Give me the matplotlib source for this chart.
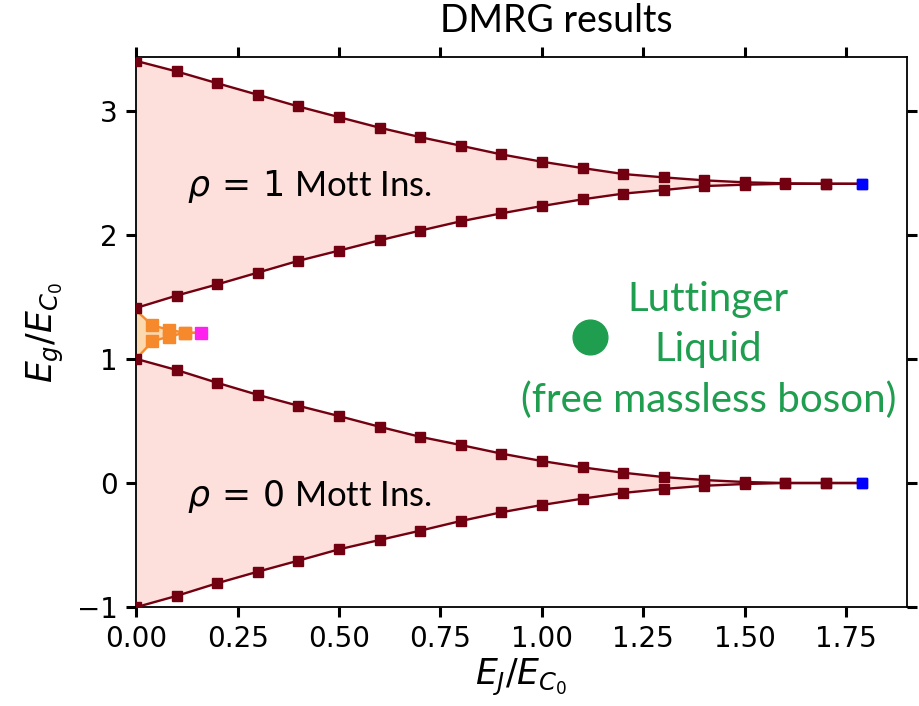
from __future__ import annotations

import matplotlib

matplotlib.use("Agg")

import matplotlib.pyplot as plt


# DMRG gap boundaries
ej = [0.0, 0.1, 0.2, 0.3, 0.4, 0.5, 0.6, 0.7, 0.8, 0.9,
      1.0, 1.1, 1.2, 1.3, 1.4, 1.5, 1.6, 1.7, 1.79]

mott1_upper = [3.40, 3.315, 3.22, 3.127, 3.033, 2.947, 2.862, 2.786, 2.717, 2.647,
               2.588, 2.537, 2.489, 2.462, 2.438, 2.422, 2.414, 2.411, 2.41]
mott1_lower = [1.41, 1.51, 1.60, 1.695, 1.79, 1.872, 1.955, 2.033, 2.108, 2.172,
               2.231, 2.285, 2.331, 2.36, 2.392, 2.403, 2.41, 2.41, 2.41]

mott0_upper = [1.00, 0.91, 0.807, 0.71, 0.622, 0.539, 0.453, 0.372, 0.306, 0.237,
               0.177, 0.126, 0.083, 0.048, 0.024, 0.008, 0.0, 0.0, 0.0]
mott0_lower = [-1.00, -0.909, -0.807, -0.714, -0.625, -0.534, -0.459, -0.384, -0.306, -0.236,
               -0.177, -0.126, -0.08, -0.048, -0.022, -0.008, 0.0, 0.0, 0.0]

# small half-filling lobe near E_J = 0
ej_half = [0.0, 0.04, 0.08, 0.12, 0.16]
half_upper = [1.39, 1.27, 1.235, 1.21, 1.21]
half_lower = [1.00, 1.14, 1.18, 1.21, 1.21]

ll_point = (1.118, 1.175)

DARK = "#730010"
PINK = "#fde0dc"
ORANGE = "#f6892c"
ORANGE_FILL = "#fcd8ae"
GREEN = "#1f9e4f"


def main() -> None:
    fig = plt.figure(figsize=(9.2, 7.06), dpi=100)
    ax = fig.add_axes([0.148, 0.140, 0.838, 0.779])

    for upper, lower in [(mott1_upper, mott1_lower), (mott0_upper, mott0_lower)]:
        ax.fill_between(ej, lower, upper, color=PINK, linewidth=0, zorder=1)
        for curve in (upper, lower):
            ax.plot(ej, curve, color=DARK, linewidth=1.7, zorder=3)
            ax.plot(ej[:-1], curve[:-1], linestyle="none", marker="s", markersize=7.5,
                    color=DARK, zorder=4)
            ax.plot(ej[-1:], curve[-1:], linestyle="none", marker="s", markersize=7.5,
                    color="#0000ff", zorder=4)

    ax.fill_between(ej_half, half_lower, half_upper, color=ORANGE_FILL, linewidth=0, zorder=2)
    for curve in (half_upper, half_lower):
        ax.plot(ej_half, curve, color=ORANGE, linewidth=1.7, zorder=3)
        ax.plot(ej_half[1:-1], curve[1:-1], linestyle="none", marker="s", markersize=8,
                color=ORANGE, zorder=4)
    ax.plot(ej_half[-1:], half_upper[-1:], linestyle="none", marker="s", markersize=8,
            color="#ff22ee", zorder=5)

    ax.plot([ll_point[0]], [ll_point[1]], marker="o", markersize=25, color=GREEN,
            linestyle="none", zorder=5)

    ax.text(0.125, 2.39, r"$\rho\,=\,1$ Mott Ins.", fontsize=25, va="center", ha="left",
            family="Lato")
    ax.text(0.125, -0.11, r"$\rho\,=\,0$ Mott Ins.", fontsize=25, va="center", ha="left",
            family="Lato")
    ax.text(1.41, 1.07, "Luttinger\nLiquid\n(free massless boson)", color=GREEN,
            fontsize=29, ha="center", va="center", linespacing=1.44, family="Lato")
    ax.set_title("DMRG results", fontsize=27, family="Lato", pad=18, x=0.545)

    ax.set_xlim(0, 1.9)
    ax.set_ylim(-1, 3.43)
    ax.set_xticks([0, 0.25, 0.5, 0.75, 1.0, 1.25, 1.5, 1.75])
    ax.set_xticklabels(["0.00", "0.25", "0.50", "0.75", "1.00", "1.25", "1.50", "1.75"])
    ax.set_yticks([-1, 0, 1, 2, 3])
    ax.tick_params(direction="out", length=7, width=2.2, labelsize=20,
                   top=True, right=True, pad=6)
    for spine in ax.spines.values():
        spine.set_linewidth(1.3)

    ax.set_xlabel(r"$E_J/E_{C_0}$", fontsize=25, labelpad=3)
    ax.set_ylabel(r"$E_g/E_{C_0}$", fontsize=25, labelpad=8)

    fig.savefig("out.png", dpi=100)
    plt.close(fig)


if __name__ == "__main__":
    main()
